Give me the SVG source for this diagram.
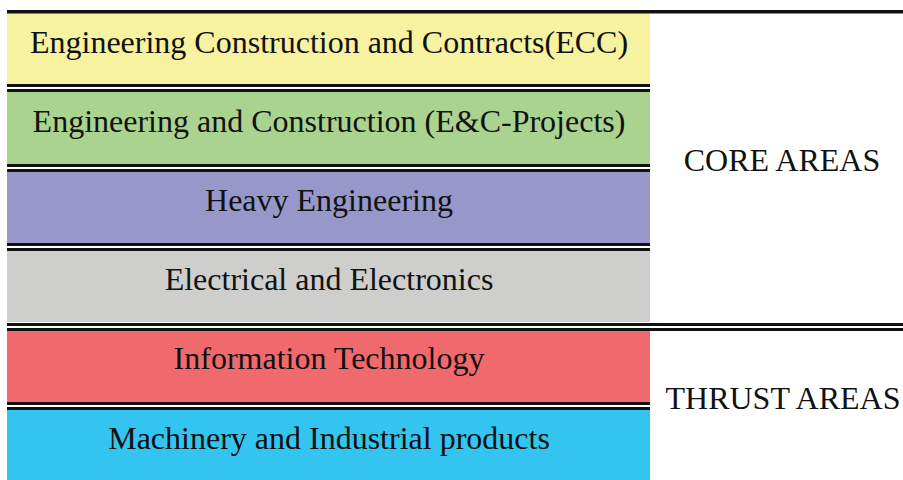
<svg xmlns="http://www.w3.org/2000/svg" width="903" height="480" viewBox="0 0 903 480">
<style>
.t{font-family:"Liberation Serif","Times New Roman",serif;font-size:32px;fill:#111;text-anchor:middle;dominant-baseline:central}
.s{fill:#111}
</style>
<rect width="903" height="480" fill="#fff"/>
<g id="ecc"><rect x="7" y="13" width="643" height="71" fill="#F7F29F"/><text class="t" x="329" y="42">Engineering Construction and Contracts(ECC)</text></g>
<g id="ec"><rect x="7" y="92" width="643" height="72" fill="#A9D38E"/><text class="t" x="329" y="121">Engineering and Construction (E&amp;C-Projects)</text></g>
<g id="heavy"><rect x="7" y="171" width="643" height="72" fill="#9797CA"/><text class="t" x="329" y="200">Heavy Engineering</text></g>
<g id="elec"><rect x="7" y="251" width="643" height="71" fill="#CECECC"/><text class="t" x="329" y="279">Electrical and Electronics</text></g>
<g id="it"><rect x="7" y="331" width="643" height="71" fill="#F0696C"/><text class="t" x="329" y="358">Information Technology</text></g>
<g id="mip"><rect x="7" y="410" width="643" height="70" fill="#33C4F0"/><text class="t" x="329" y="438">Machinery and Industrial products</text></g>
<g id="core"><text class="t" x="782" y="160">CORE AREAS</text></g>
<g id="thrust"><text class="t" x="783" y="398">THRUST AREAS</text></g>
<g id="lines">
<rect class="s" x="7" y="10" width="896" height="3.5"/>
<rect class="s" x="7" y="84" width="643" height="3"/><rect class="s" x="7" y="89" width="643" height="3"/>
<rect class="s" x="7" y="164" width="643" height="3"/><rect class="s" x="7" y="169" width="643" height="3"/>
<rect class="s" x="7" y="243" width="643" height="3"/><rect class="s" x="7" y="248" width="643" height="3"/>
<rect class="s" x="7" y="323" width="896" height="3"/><rect class="s" x="7" y="328" width="896" height="3"/>
<rect class="s" x="7" y="402" width="643" height="3"/><rect class="s" x="7" y="407" width="643" height="3"/>
</g>
</svg>
